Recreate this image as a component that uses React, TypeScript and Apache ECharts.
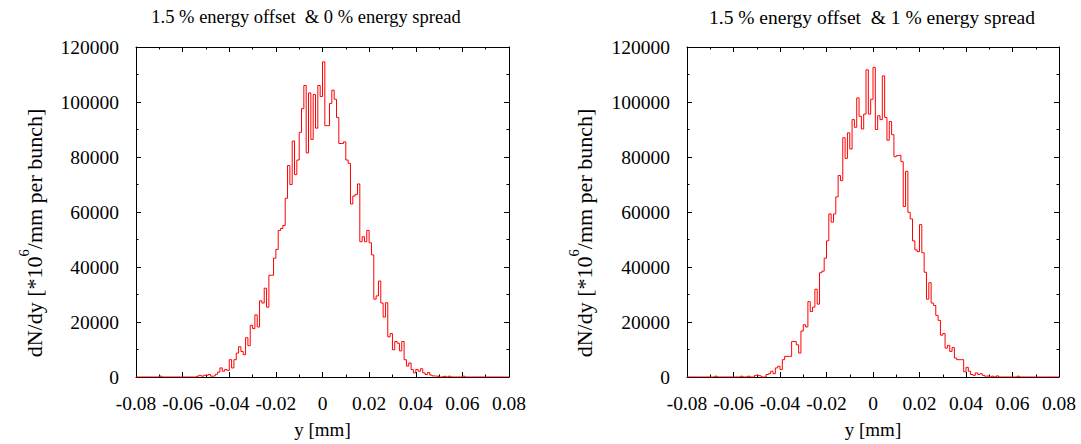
import React, { useEffect, useRef } from "react";
import * as echarts from "echarts";

// Histogram: 160 bins of width 0.001 mm from -0.08 to 0.08 (dN/dy values per bin)
const binStart = -0.08;
const binWidth = 0.001;

const titles = [
  "1.5 % energy offset  & 0 % energy spread",
  "1.5 % energy offset  & 1 % energy spread",
];
const yName = "{n|dN/dy [*10}{s|6}{n|/mm per bunch]}";

const spread0: number[] = [
  0, 0, 0, 0, 0, 0, 0, 0, 0, 0,
  300, 0, 0, 0, 0, 0, 0, 0, 0, 0,
  0, 0, 0, 0, 0, 0, 300, 600, 300, 600,
  600, 900, 300, 400, 1000, 1800, 3300, 2100, 2700, 2400,
  6300, 3300, 6300, 8700, 11000, 9300, 8100, 14300, 11400, 18800,
  17600, 22600, 18200, 27700, 26900, 32300, 25400, 37000, 37000, 43200,
  46400, 53300, 54000, 55100, 65000, 76900, 70000, 85800, 73600, 78900,
  89000, 97600, 106000, 81500, 103300, 86400, 102700, 90500, 106000, 102000,
  114600, 91400, 91400, 99500, 104300, 101000, 94400, 84900, 84900, 85500,
  78900, 77700, 62900, 65800, 66400, 70200, 49200, 51000, 49200, 53300,
  48800, 44400, 28300, 29500, 34900, 26900, 21800, 27000, 14600, 15800,
  9900, 12900, 12300, 9500, 12900, 6300, 4000, 5100, 2700, 1500,
  2700, 2100, 3000, 1500, 900, 1600, 700, 400, 300, 300,
  0, 200, 300, 0, 300, 0, 0, 0, 0, 0,
  300, 0, 0, 0, 0, 0, 0, 0, 0, 0,
  0, 0, 0, 0, 0, 0, 0, 0, 0, 0,
];

const spread1: number[] = [
  0, 0, 0, 0, 0, 0, 0, 0, 0, 0,
  0, 0, 300, 0, 0, 0, 0, 0, 0, 0,
  0, 0, 0, 300, 0, 0, 300, 0, 0, 600,
  500, 400, 0, 0, 900, 1200, 2100, 1200, 3300, 3900,
  2700, 6300, 7500, 7500, 7500, 12900, 12900, 11700, 8700, 16700,
  19000, 18200, 27400, 23800, 25400, 31900, 26500, 37900, 38500, 43200,
  49500, 59300, 56300, 59300, 65500, 73300, 71400, 87000, 79500, 88800,
  82900, 93600, 90800, 101500, 94800, 90200, 95600, 111700, 95600, 101000,
  112600, 90000, 95000, 93600, 109500, 94400, 86100, 92900, 88100, 80100,
  80500, 80700, 78300, 62000, 74800, 59900, 57500, 49500, 46200, 45600,
  55400, 45200, 38100, 28300, 34300, 26900, 26000, 22400, 20600, 15200,
  15800, 10500, 11500, 9300, 10700, 6900, 6300, 6300, 6300, 1900,
  3500, 2100, 900, 600, 1500, 900, 1200, 600, 300, 400,
  0, 300, 0, 400, 0, 0, 0, 0, 0, 0,
  0, 0, 300, 0, 0, 0, 0, 0, 0, 0,
  0, 0, 0, 0, 0, 0, 0, 0, 0, 0,
];

const FONT = "Liberation Serif";

function stepData(vals: number[]) {
  const d: [number, number][] = vals.map((v, i) => [binStart + i * binWidth, v]);
  d.push([binStart + vals.length * binWidth, vals[vals.length - 1]]);
  return d;
}

const grids = [
  { left: 136, top: 47, width: 373, height: 336 },
  { left: 687, top: 47, width: 372, height: 336 },
];

export default function App() {
  const ref = useRef<HTMLDivElement>(null);
  useEffect(() => {
    if (!ref.current) return;
    const chart = echarts.init(ref.current, undefined, { renderer: "svg" });
    const black = "#000";
    const tickCommon = {
      axisLine: { show: true, onZero: false, lineStyle: { color: black, width: 1 } },
      axisTick: { show: true, inside: true, length: 5, lineStyle: { color: black } },
      minorTick: { show: true, splitNumber: 2, length: 2.5, lineStyle: { color: black } },
      splitLine: { show: false },
    };
    const xAxes: any[] = [];
    const yAxes: any[] = [];
    grids.forEach((_, gi) => {
      const xBase = {
        type: "value",
        gridIndex: gi,
        min: -0.08,
        max: 0.08,
        interval: 0.02,
        ...tickCommon,
      };
      xAxes.push({
        ...xBase,
        position: "bottom",
        name: "y [mm]",
        nameLocation: "middle",
        nameGap: 43,
        nameTextStyle: { fontFamily: FONT, fontSize: 19, color: black },
        axisLabel: {
          fontFamily: FONT,
          fontSize: 19.5,
          color: black,
          margin: 16,
          formatter: (v: number) => String(Number(v.toFixed(2))),
        },
      });
      xAxes.push({ ...xBase, position: "top", axisLabel: { show: false } });
      const yBase = {
        type: "value",
        gridIndex: gi,
        min: 0,
        max: 120000,
        interval: 20000,
        ...tickCommon,
      };
      yAxes.push({
        ...yBase,
        position: "left",
        axisLabel: {
          fontFamily: FONT,
          fontSize: 19.5,
          color: black,
          margin: 17,
          formatter: (v: number) => String(v),
        },
      });
      yAxes.push({ ...yBase, position: "right", axisLabel: { show: false } });
    });

    const titleEls = titles.map((t, i) => ({
      type: "text",
      x: i === 0 ? 306 : 872,
      y: 17,
      style: {
        text: t,
        fontFamily: FONT,
        fontSize: i === 0 ? 18.5 : 19.5,
        fill: black,
        textAlign: "center",
        textVerticalAlign: "middle",
      },
    }));
    const yNameEls = [31, 581].map((x) => ({
      type: "text",
      x,
      y: 233,
      rotation: Math.PI / 2,
      style: {
        text: yName,
        fontFamily: FONT,
        fontSize: 22,
        fill: black,
        textAlign: "center",
        textVerticalAlign: "middle",
        rich: {
          n: { fontFamily: FONT, fontSize: 22, fill: black, lineHeight: 29, verticalAlign: "bottom" },
          s: { fontFamily: FONT, fontSize: 14.5, fill: black, lineHeight: 29, verticalAlign: "top" },
        },
      },
    }));

    chart.setOption({
      animation: false,
      backgroundColor: "#fff",
      grid: grids,
      xAxis: xAxes,
      yAxis: yAxes,
      graphic: [...titleEls, ...yNameEls],
      series: [spread0, spread1].map((vals, i) => ({
        type: "line",
        xAxisIndex: i * 2,
        yAxisIndex: i * 2,
        step: "end",
        symbol: "none",
        data: stepData(vals),
        lineStyle: { color: "#ff0000", width: 1 },
        z: 1,
      })),
    });
    return () => chart.dispose();
  }, []);
  return (
    <div
      ref={ref}
      style={{ position: "absolute", left: 0, top: 0, width: 1081, height: 444 }}
    />
  );
}
